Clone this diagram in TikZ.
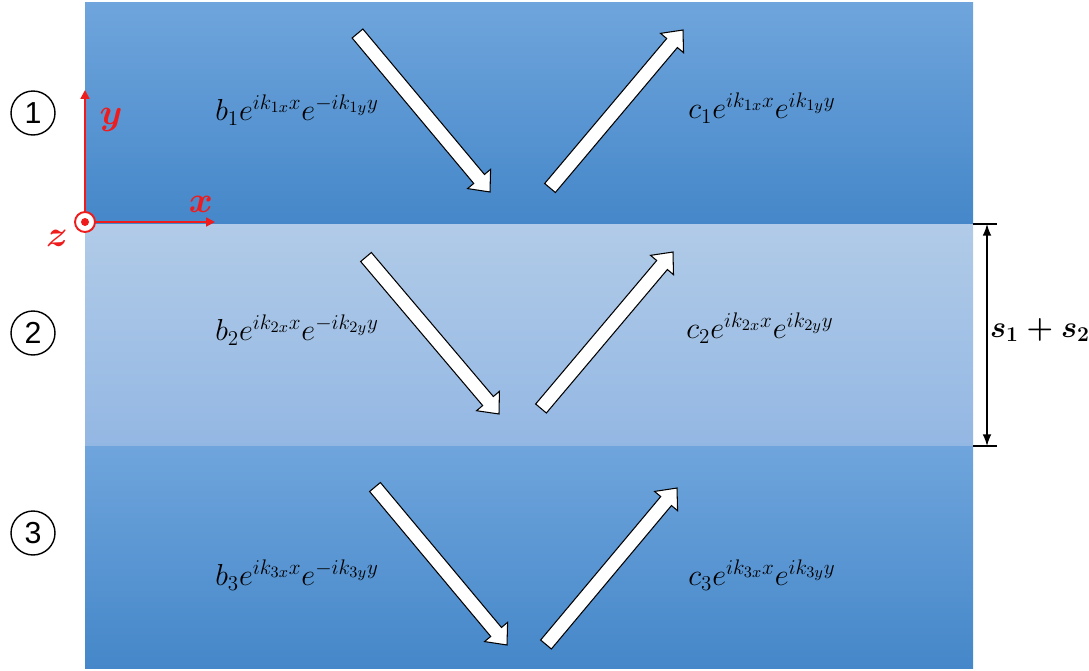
\documentclass[tikz,border=0pt]{standalone}
\usepackage{amsmath}
\usepackage{fontspec}
\usepackage{tikz}
\usetikzlibrary{arrows.meta}
\newfontfamily\numfont{Liberation Sans}
\definecolor{BandTop}{HTML}{6FA5DC}
\definecolor{BandMid}{HTML}{5199DC}
\definecolor{BandBot}{HTML}{4587C9}
\definecolor{GapTop}{HTML}{B1CBE8}
\definecolor{GapBot}{HTML}{93B7E3}
\definecolor{AxisRed}{HTML}{EE1C1C}

% block arrow from tail (#1,#2) to tip (#3,#4), pixel units
\newcommand{\blockarrow}[4]{%
  \pgfmathsetmacro{\arrang}{atan2(-(#4-#2),#3-#1)}%
  \pgfmathsetmacro{\arrlen}{veclen(#3-#1,#4-#2)}%
  \begin{scope}[shift={(#1,#2)},rotate=\arrang]
    \draw[wavearrow] (0,-7) -- (\arrlen-17,-7) -- (\arrlen-17,-15) -- (\arrlen,0)
      -- (\arrlen-17,15) -- (\arrlen-17,7) -- (0,7) -- cycle;
  \end{scope}}

\begin{document}
\begin{tikzpicture}[x=0.02cm,y=-0.02cm,>=Latex,
  wavearrow/.style={draw=black,fill=white,line width=0.6pt,line join=miter},
  wave/.style={font=\fontsize{18.5}{22}\selectfont},
  layernum/.style={circle,draw,line width=0.8pt,minimum size=0.88cm,inner sep=0pt,font=\numfont\LARGE},
  axis/.style={draw=AxisRed,line width=1.1pt,-{Triangle[length=5pt,width=5pt]}},
  axislabel/.style={text=AxisRed,font=\huge\boldmath}]
\useasboundingbox (0,0) rectangle (1089,670);

% layers
\shade[top color=BandTop,middle color=BandMid,bottom color=BandBot] (85,2) rectangle (973,224);
\shade[top color=GapTop,bottom color=GapBot] (85,224) rectangle (973,446);
\shade[top color=BandTop,middle color=BandMid,bottom color=BandBot] (85,446) rectangle (973,668);

% layer numbers
\node[layernum] (n1) at (33,113) {1};
\node[layernum] (n2) at (33,333) {2};
\node[layernum] (n3) at (33,533) {3};

% waves
\blockarrow{357.5}{33.5}{490}{192}
\blockarrow{550}{188}{683}{30}
\blockarrow{366}{257}{499}{414}
\blockarrow{541}{408.5}{673}{252}
\blockarrow{375}{487}{507}{645}
\blockarrow{546}{644.5}{677}{488}

\node[wave] (b1) at (297,110) {$b_1e^{ik_{1x}x}e^{-ik_{1y}y}$};
\node[wave] (c1) at (762,108) {$c_1e^{ik_{1x}x}e^{ik_{1y}y}$};
\node[wave] (b2) at (297,330) {$b_2e^{ik_{2x}x}e^{-ik_{2y}y}$};
\node[wave] (c2) at (760,328) {$c_2e^{ik_{2x}x}e^{ik_{2y}y}$};
\node[wave] (b3) at (297,575) {$b_3e^{ik_{3x}x}e^{-ik_{3y}y}$};
\node[wave] (c3) at (762,575) {$c_3e^{ik_{3x}x}e^{ik_{3y}y}$};

% axes
\coordinate (O) at (85,222);
\coordinate (ytip) at (85,90);
\coordinate (xtip) at (215,222);
\draw[axis] (O) -- (ytip);
\draw[axis] (O) -- (xtip);
\node[circle,draw=AxisRed,fill=white,line width=1.1pt,minimum size=0.4cm,inner sep=0pt] (zdot) at (O) {};
\fill[AxisRed] (zdot.center) circle (0.08cm);
\node[axislabel] (ylab) at (111,120) {$y$};
\node[axislabel] (xlab) at (201,204) {$x$};
\node[axislabel] (zlab) at (57,238) {$z$};

% thickness
\coordinate (dtop) at (987,224);
\coordinate (dbot) at (987,446);
\draw[line width=0.8pt] (973,224) -- (997,224);
\draw[line width=0.8pt] (973,446) -- (997,446);
\draw[<->,line width=0.8pt] (dtop) -- (dbot);
\node[font=\fontsize{16.5}{20}\selectfont\boldmath] (thick) at (1040,330) {$s_1+s_2$};
\end{tikzpicture}
\end{document}
